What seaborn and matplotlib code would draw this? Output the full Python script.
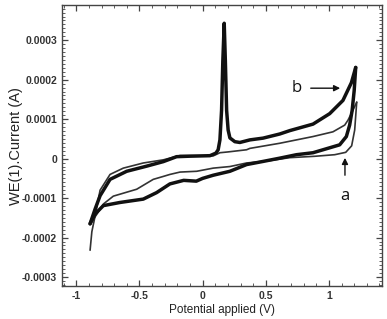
import numpy as np
import pandas as pd
import matplotlib
matplotlib.use("Agg")
import matplotlib.pyplot as plt
import matplotlib.ticker as mticker
import seaborn as sns

# ---- data (potential in V, current in units of 1e-4 A) ----
# curve a (thin) - forward (anodic) branch
a_fwd_v = [-0.891, -0.877, -0.851, -0.812, -0.733, -0.628, -0.47, -0.311, -0.179, 0.084,
           0.137, 0.20, 0.348, 0.374, 0.611, 0.874, 1.032, 1.125, 1.151, 1.19, 1.22]
a_fwd_i = [-2.32, -1.85, -1.45, -0.80, -0.40, -0.24, -0.11, -0.03, 0.08, 0.07,
           0.15, 0.17, 0.225, 0.26, 0.39, 0.56, 0.68, 0.85, 0.975, 1.225, 1.43]
# curve a (thin) - reverse branch
a_rev_v = [1.22, 1.204, 1.18, 1.133, 1.046, 0.888, 0.69, 0.532, 0.348, 0.216, 0.084, -0.047,
           -0.179, -0.259, -0.311, -0.391, -0.522, -0.654, -0.707, -0.786, -0.836, -0.867, -0.891]
a_rev_i = [1.43, 0.725, 0.325, 0.16, 0.10, 0.06, 0.025, -0.05, -0.11, -0.20, -0.24, -0.32,
           -0.34, -0.40, -0.45, -0.525, -0.775, -0.90, -0.95, -1.15, -1.40, -1.55, -1.65]
# curve b (thick) - forward branch with oxidation spike
b_fwd_v = [-0.891, -0.851, -0.812, -0.733, -0.601, -0.443, -0.311, -0.206, -0.10, 0.058,
           0.105, 0.123, 0.137, 0.150, 0.160, 0.171, 0.180, 0.190, 0.202, 0.216, 0.255,
           0.295, 0.374, 0.479, 0.611, 0.690, 0.874, 1.006, 1.111, 1.178, 1.212]
b_fwd_i = [-1.65, -1.275, -0.94, -0.525, -0.32, -0.19, -0.075, 0.05, 0.0625, 0.075,
           0.14, 0.225, 0.475, 1.225, 2.475, 3.43, 2.475, 1.225, 0.725, 0.525, 0.43,
           0.41, 0.475, 0.52, 0.625, 0.71, 0.875, 1.14, 1.475, 1.925, 2.31]
# curve b (thick) - reverse branch
b_rev_v = [1.212, 1.200, 1.184, 1.164, 1.138, 1.085, 0.953, 0.874, 0.743, 0.611, 0.479,
           0.348, 0.216, 0.084, 0.0, -0.05, -0.15, -0.259, -0.364, -0.470, -0.654, -0.786,
           -0.851, -0.891]
b_rev_i = [2.31, 1.725, 1.225, 0.85, 0.56, 0.35, 0.225, 0.15, 0.10, 0.0125, -0.07,
           -0.15, -0.32, -0.42, -0.50, -0.57, -0.55, -0.64, -0.86, -1.025, -1.11, -1.19,
           -1.40, -1.65]

x_ticks = [-1, -0.5, 0, 0.5, 1]
x_ticklabels = ["-1", "-0.5", "0", "0.5", "1"]
y_ticks = [-0.0003, -0.0002, -0.0001, 0, 0.0001, 0.0002, 0.0003]
y_ticklabels = ["-0.0003", "-0.0002", "-0.0001", "0", "0.0001", "0.0002", "0.0003"]

def frame(v, i, name):
    return pd.DataFrame({"V": v, "I": np.array(i) * 1e-4, "curve": name,
                         "order": np.arange(len(v))})

sns.set_style("ticks")
plt.rcParams["font.family"] = ["Liberation Sans", "DejaVu Sans"]

fig = plt.figure(figsize=(3.87, 3.19), dpi=100)
ax = fig.add_axes([0.160, 0.103, 0.827, 0.881])

for v, i, name, lw, col in [
    (a_fwd_v, a_fwd_i, "a_fwd", 1.2, "#333333"),
    (a_rev_v, a_rev_i, "a_rev", 1.2, "#333333"),
    (b_fwd_v, b_fwd_i, "b_fwd", 2.5, "#111111"),
    (b_rev_v, b_rev_i, "b_rev", 2.5, "#111111"),
]:
    df = frame(v, i, name)
    sns.lineplot(data=df, x="V", y="I", sort=False, ax=ax, color=col, lw=lw,
                 solid_joinstyle="round", solid_capstyle="round", legend=False)

ax.set_xlim(-1.114, 1.42)
ax.set_ylim(-0.000323, 0.000389)

ax.set_xticks(x_ticks)
ax.set_xticklabels(x_ticklabels)
ax.set_yticks(y_ticks)
ax.set_yticklabels(y_ticklabels)
ax.xaxis.set_minor_locator(mticker.MultipleLocator(0.1))
ax.yaxis.set_minor_locator(mticker.MultipleLocator(0.00001))
ax.tick_params(which="both", direction="in", top=True, right=True, color="#444444")
ax.tick_params(which="major", length=4, width=0.9, labelsize=7.5, labelcolor="#333333", pad=3.5)
ax.tick_params(which="minor", length=2, width=0.6)
for lab in ax.get_xticklabels() + ax.get_yticklabels():
    lab.set_fontweight("bold")
for s in ax.spines.values():
    s.set_color("#444444")
    s.set_linewidth(1.0)

ax.set_xlabel("Potential applied (V)", fontsize=8.5, color="#222222", labelpad=2)
ax.set_ylabel("WE(1).Current (A)", fontsize=10.5, color="#222222", labelpad=-1)

# annotations
ax.annotate("", xy=(1.111, 1.785e-4), xytext=(0.834, 1.785e-4),
            arrowprops=dict(arrowstyle="-|>", color="#111111", lw=1.0, mutation_scale=9))
ax.text(0.747, 1.785e-4, "b", fontsize=12, ha="center", va="center", color="#111111",
        family=["Open Sans", "DejaVu Sans"])
ax.annotate("", xy=(1.127, 0.09e-4), xytext=(1.127, -0.49e-4),
            arrowprops=dict(arrowstyle="-|>", color="#111111", lw=1.0, mutation_scale=9))
ax.text(1.127, -0.95e-4, "a", fontsize=12, ha="center", va="center", color="#111111",
        family=["Open Sans", "DejaVu Sans"])

fig.savefig("out.png", dpi=100)
